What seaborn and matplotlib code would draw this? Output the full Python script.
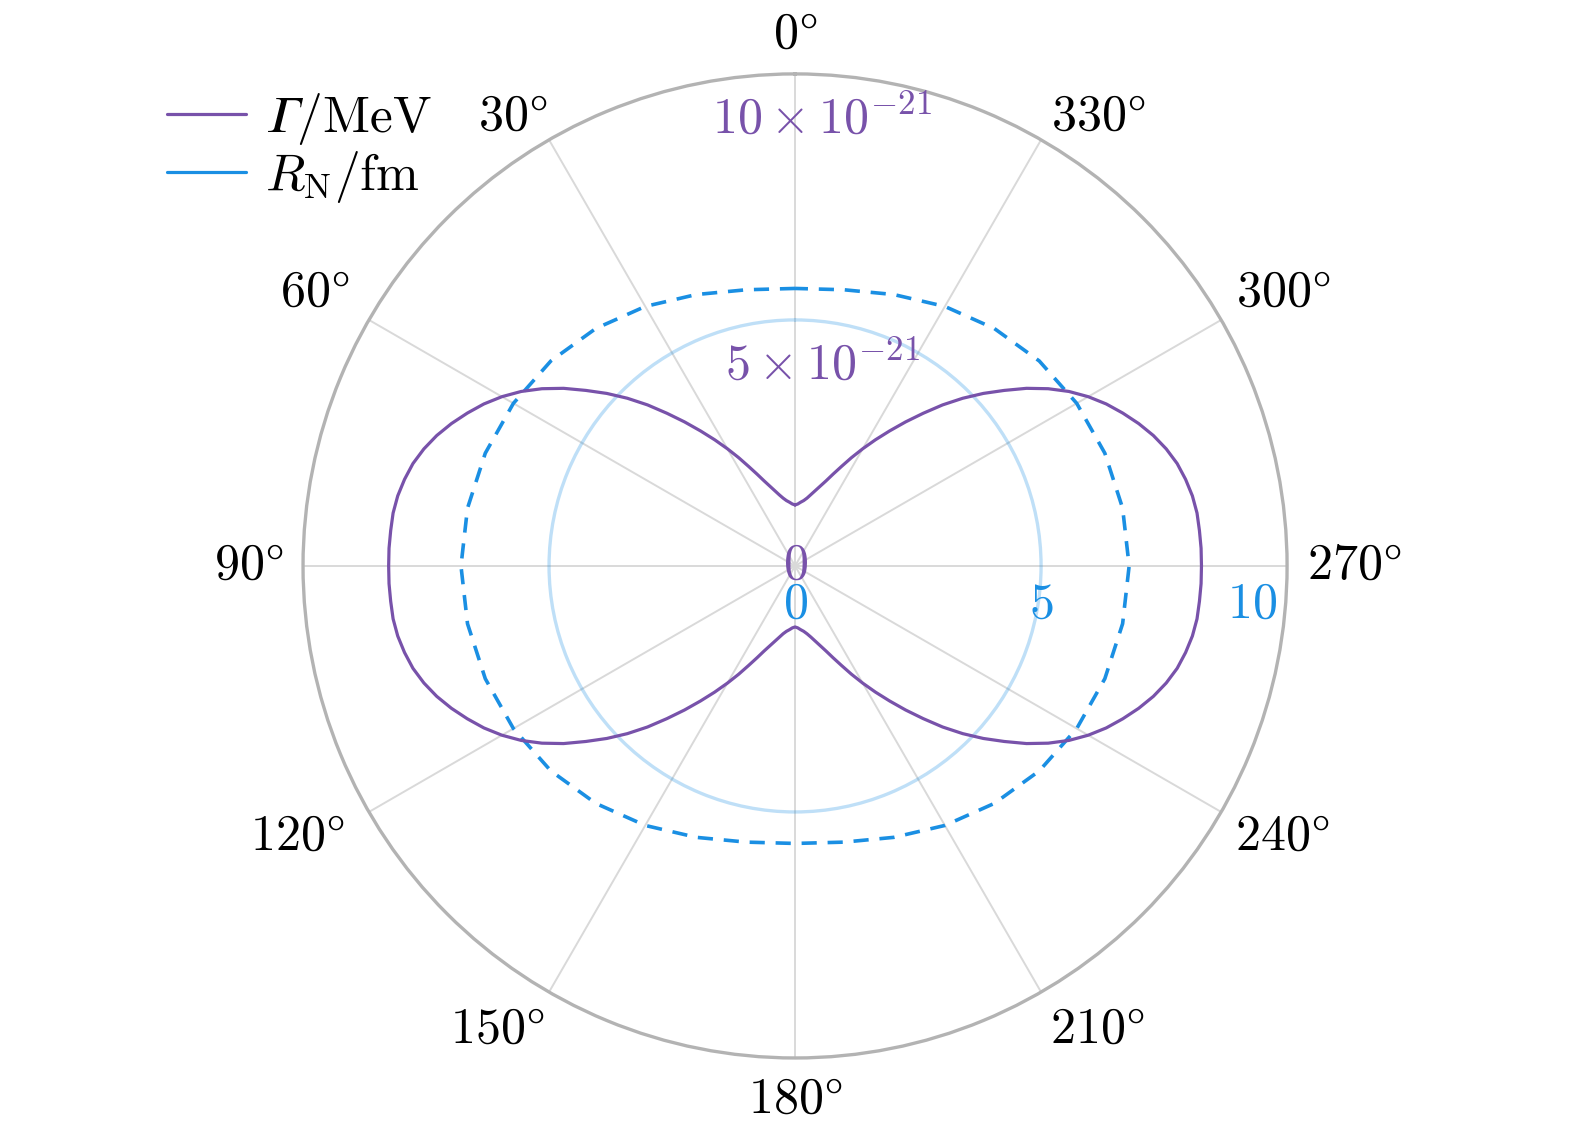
import numpy as np
import matplotlib.pyplot as plt
import seaborn as sns
from matplotlib.lines import Line2D

sns.set_style('white')
plt.rcParams.update({
    'font.family': 'serif',
    'font.serif': ['cmr10', 'DejaVu Serif'],
    'mathtext.fontset': 'cm',
    'font.size': 36,
    'text.color': 'black',
    'axes.unicode_minus': False,
})

PURPLE = '#7852aa'
BLUE = '#1a8fe3'

gamma_deg = [0, 2.5, 5, 7.5, 10, 12.5, 15, 17.5, 20, 22.5, 25, 27.5, 30, 32.5,
             35, 37.5, 40, 42.5, 45, 47.5, 50, 52.5, 55, 57.5, 60, 62.5, 65,
             67.5, 70, 72.5, 75, 77.5, 80, 82.5, 85, 87.5, 90]
gamma_val = [1.24, 1.26, 1.30, 1.34, 1.40, 1.48, 1.58, 1.70, 1.84, 2.02, 2.23,
             2.48, 2.75, 3.04, 3.35, 3.69, 4.05, 4.44, 4.82, 5.19, 5.55, 5.93,
             6.28, 6.60, 6.88, 7.13, 7.35, 7.56, 7.75, 7.91, 8.04, 8.13, 8.20,
             8.24, 8.25, 8.26, 8.26]
GAMMA_SCALE = 1e-21

# nuclear radius R_N (fm)
rn_deg = [0, 10, 20, 30, 40, 50, 60, 70, 80, 90]
rn_val = [5.64, 5.70, 5.87, 6.09, 6.30, 6.48, 6.61, 6.70, 6.76, 6.79]

gamma_ticks = [0, 5, 10]
gamma_ticklabels = [r'$0$', r'$5\times10^{-21}$', r'$10\times10^{-21}$']
rn_ticks = [0, 5, 10]
rn_ticklabels = [r'$0$', r'$5$', r'$10$']
theta_ticks = list(range(0, 360, 30))
# gap (px) between circle and label box, per angle label
label_gap_x = [0, 2, 20, 20, 25, 5, 0, 9, 14, 20, 15, 10]
label_gap_y = [16, 0, 4, 0, 2, 15, 19, 15, 2, 0, 4, 0]


def full_turn(deg, vals):
    # mirror the first quadrant into the other three
    d = np.asarray(deg, float)
    v = np.asarray(vals, float)
    th = np.concatenate([d, 180 - d[::-1], 180 + d, 360 - d[::-1]])
    rr = np.concatenate([v, v[::-1], v, v[::-1]])
    return np.deg2rad(th), rr


fig = plt.figure(figsize=(15.75, 11.32), dpi=100)
rect = [0.1924, 0.0654, 0.6248, 0.8693]
ax_r = fig.add_axes(rect, polar=True)
ax_g = fig.add_axes(rect, polar=True)
ax_g.patch.set_alpha(0)

for ax in (ax_r, ax_g):
    ax.set_theta_zero_location('N')
    ax.set_theta_direction(1)
    ax.set_xticks(np.deg2rad(theta_ticks))
    ax.set_xticklabels([])
    ax.set_yticklabels([])

# R_N curve (dashed blue)
th, rr = full_turn(rn_deg, rn_val)
sns.lineplot(x=th, y=rr, ax=ax_r, sort=False, estimator=None, color=BLUE,
             lw=2.6, linestyle=(0, (4.2, 3.0)))
ax_r.set_ylim(0, 10)
ax_r.set_yticks([5])
ax_r.set_yticklabels([])
ax_r.yaxis.grid(True, color=BLUE, alpha=0.28, lw=2.4)
ax_r.xaxis.grid(True, color='#d9d9d9', lw=1.4)
ax_r.spines['polar'].set_color('#b3b3b3')
ax_r.spines['polar'].set_linewidth(2.4)
ax_r.set_xlabel('')
ax_r.set_ylabel('')

# Gamma curve (solid purple)
th, rr = full_turn(gamma_deg, gamma_val)
sns.lineplot(x=th, y=rr * GAMMA_SCALE, ax=ax_g, sort=False, estimator=None,
             color=PURPLE, lw=2.3)
ax_g.set_ylim(0, 10 * GAMMA_SCALE)
ax_g.set_yticks([])
ax_g.grid(False)
ax_g.spines['polar'].set_visible(False)
ax_g.set_xlabel('')
ax_g.set_ylabel('')

# angle labels around the circle
for a, gx, gy in zip(theta_ticks, label_gap_x, label_gap_y):
    s, c = np.sin(np.deg2rad(a)), np.cos(np.deg2rad(a))
    ha = 'center' if abs(s) < 0.01 else ('right' if s > 0 else 'left')
    va = 'center' if abs(c) < 0.01 else ('bottom' if c > 0 else 'top')
    dx = 0 if ha == 'center' else (-gx if s > 0 else gx)
    dy = 0 if va == 'center' else (gy if c > 0 else -gy)
    ax_g.annotate(r'$%d\degree$' % a, xy=(np.deg2rad(a), 10 * GAMMA_SCALE),
                  xytext=(dx, dy), textcoords='offset pixels',
                  ha=ha, va=va, annotation_clip=False)

# Gamma radial labels along the top
for v, lab in zip(gamma_ticks, gamma_ticklabels):
    if v == 0:
        ax_g.annotate(lab, xy=(0, 0), ha='center', va='center', color=PURPLE)
    else:
        ax_g.annotate(lab, xy=(0, v * GAMMA_SCALE), xytext=(27, -22),
                      textcoords='offset pixels', ha='center', va='top',
                      color=PURPLE, annotation_clip=False)

# R_N radial labels along the right
for v, lab in zip(rn_ticks, rn_ticklabels):
    last = v == rn_ticks[-1]
    ax_r.annotate(lab, xy=(np.deg2rad(270), v),
                  xytext=(-10 if last else 0, -39), textcoords='offset pixels',
                  ha='right' if last else 'center', va='center', color=BLUE,
                  annotation_clip=False)

handles = [Line2D([], [], color=PURPLE, lw=2.3), Line2D([], [], color=BLUE, lw=2.3)]
labels = ['$\U0001D6E4/\\mathrm{MeV}$', r'$R_{\mathrm{N}}/\mathrm{fm}$']
fig.legend(handles, labels, loc='upper left', bbox_to_anchor=(0.093, 0.938),
           frameon=False, handlelength=1.54, handletextpad=0.36,
           labelspacing=0.05, borderaxespad=0, fontsize=37)

fig.savefig('out.png', dpi=100)
plt.close(fig)
